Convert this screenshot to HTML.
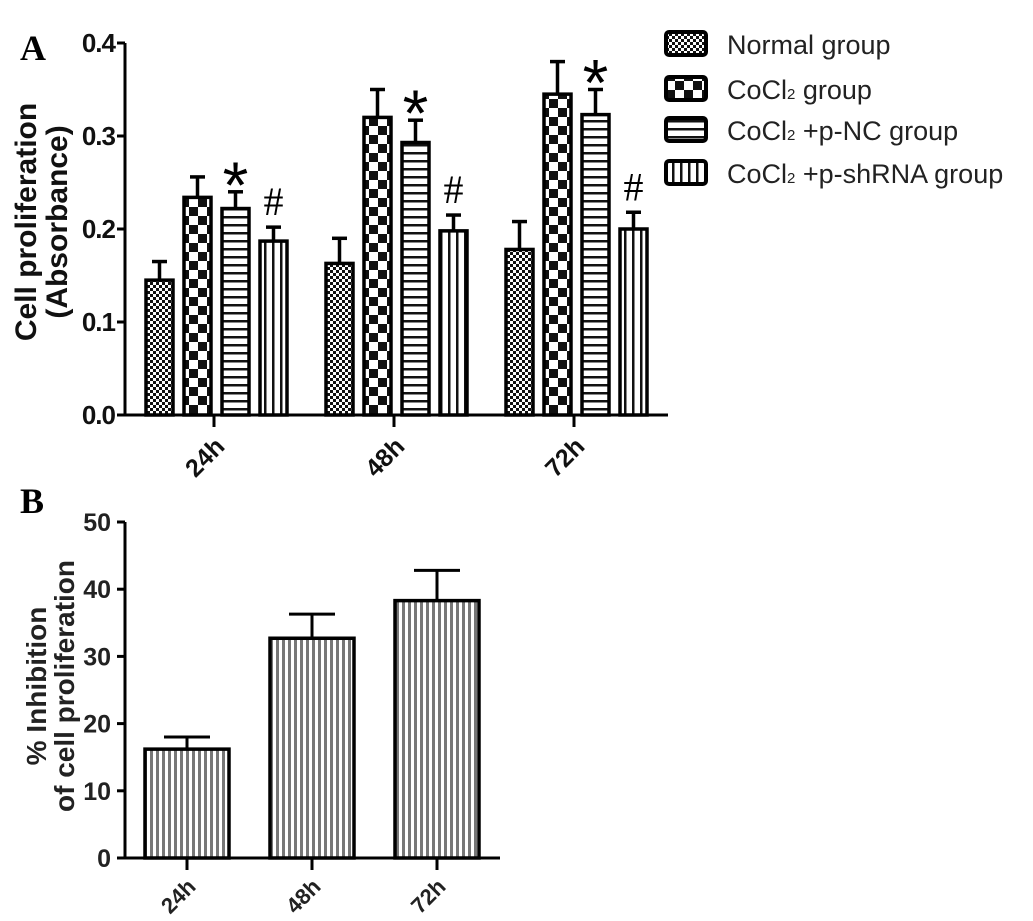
<!DOCTYPE html>
<html><head><meta charset="utf-8"><style>html,body{margin:0;padding:0;background:#fff}svg{display:block}text{font-family:"Liberation Sans",Arial,sans-serif}</style></head>
<body>
<svg id="s" width="1033" height="921" viewBox="0 0 1033 921" xmlns="http://www.w3.org/2000/svg">
<defs>
<pattern id="p0" width="6" height="6" patternUnits="userSpaceOnUse"><rect width="6" height="6" fill="#fff"/><rect width="3" height="3" fill="#111"/><rect x="3" y="3" width="3" height="3" fill="#111"/></pattern>
<pattern id="p1" width="18" height="18" patternUnits="userSpaceOnUse" x="0"><rect width="18" height="18" fill="#fff"/><rect width="9" height="9" fill="#111"/><rect x="9" y="9" width="9" height="9" fill="#111"/></pattern>
<pattern id="p2" width="8" height="8" patternUnits="userSpaceOnUse"><rect width="8" height="8" fill="#fff"/><rect y="0" width="8" height="2.5" fill="#111"/></pattern>
<pattern id="p3" width="8" height="8" patternUnits="userSpaceOnUse"><rect width="8" height="8" fill="#fff"/><rect x="0" width="2.5" height="8" fill="#111"/></pattern>
<pattern id="pB" width="6" height="6" patternUnits="userSpaceOnUse"><rect width="6" height="6" fill="#fff"/><rect width="3" height="6" fill="#777"/></pattern>
</defs>
<text x="20" y="60" font-weight="bold" font-size="36" style="font-family:'Liberation Serif',serif">A</text>
<text x="20" y="513" font-weight="bold" font-size="36" style="font-family:'Liberation Serif',serif">B</text>
<g id="ga"></g><g id="gb"></g>
</svg>
<script>
const catsA=["24h","48h","72h"];
const seriesNames=["Normal group","CoCl2 group","CoCl2+p-NC group","CoCl2+p-shRNA group"];
const normalVals=[0.145,0.163,0.178];
const normalErr=[0.020,0.027,0.030];
const cocl2Vals=[0.234,0.320,0.345];
const cocl2Err=[0.022,0.030,0.035];
const ncVals=[0.222,0.293,0.323];
const ncErr=[0.018,0.024,0.027];
const shVals=[0.187,0.198,0.200];
const shErr=[0.015,0.017,0.018];
const ticksA=["0.0","0.1","0.2","0.3","0.4"];
const catsB=["24h","48h","72h"];
const inhibVals=[16.2,32.7,38.3];
const inhibErr=[1.8,3.6,4.5];
const ticksB=["0","10","20","30","40","50"];

const NS="http://www.w3.org/2000/svg";
function mk(p,t,a){const e=document.createElementNS(NS,t);for(const k in a)e.setAttribute(k,a[k]);p.appendChild(e);return e;}
// Panel A
const ga=document.getElementById('ga');
const yA=v=>415-v*(372/0.4);
const xA=i=>214+i*180;
const ax=mk(ga,'path',{d:'M125 43 V415 H668',fill:'none',stroke:'#000','stroke-width':3});

ticksA.forEach((t,i)=>{const v=parseFloat(t);mk(ga,'line',{x1:117,x2:125,y1:yA(v),y2:yA(v),stroke:'#000','stroke-width':3});
const tx=mk(ga,'text',{x:115,y:yA(v)+9,'text-anchor':'end','font-size':26,'font-weight':'bold',fill:'#111','letter-spacing':'-1'});tx.textContent=t;
});
const ylA=mk(ga,'text',{transform:'translate(36,222) rotate(-90)','text-anchor':'middle','font-size':30,'font-weight':'bold',fill:'#111'});ylA.textContent='Cell proliferation';

const ylA2=mk(ga,'text',{transform:'translate(67,222) rotate(-90)','text-anchor':'middle','font-size':30,'font-weight':'bold',fill:'#111'});ylA2.textContent='(Absorbance)';

const SV=[normalVals,cocl2Vals,ncVals,shVals],SE=[normalErr,cocl2Err,ncErr,shErr];
catsA.forEach((c,i)=>{
 mk(ga,'line',{x1:xA(i),x2:xA(i),y1:415,y2:427,stroke:'#000','stroke-width':3});
 const tx=mk(ga,'text',{transform:`translate(${xA(i)+12},448) rotate(-45)`,'text-anchor':'end','font-size':25,'font-weight':'bold',fill:'#111'});tx.textContent=c;
 
 for(let s=0;s<4;s++){
  const x=xA(i)-68+s*38,v=SV[s][i],e=SE[s][i];
  mk(ga,'line',{x1:x+13.5,x2:x+13.5,y1:yA(v),y2:yA(v+e),stroke:'#000','stroke-width':3.5});
  mk(ga,'line',{x1:x+6,x2:x+21,y1:yA(v+e),y2:yA(v+e),stroke:'#000','stroke-width':3.5});
  const b=mk(ga,'rect',{x:x,y:yA(v),width:27,height:415-yA(v),fill:`url(#p${s})`,stroke:'#000','stroke-width':3.5});
  
  const m=s==2?'*':(s==3?'#':'');
  if(m){const t=mk(ga,'text',{x:x+13.5,y:yA(v+e)-(m=='*'?-16:12),'text-anchor':'middle','font-size':m=='*'?66:40,fill:'#000',style:m=='#'?"font-family:'Liberation Serif',serif":''});t.textContent=m;
  }
 }
});
seriesNames.forEach((n,s)=>{
 const y=[32,77,118,161][s];
 const sw=mk(ga,'rect',{x:666,y:y,width:40,height:23,rx:3,fill:`url(#p${s})`,stroke:'#000','stroke-width':4});
 
 const t=mk(ga,'text',{x:727,y:y+22,'font-size':27,fill:'#222'});
 
 if(n.startsWith('CoCl2')){t.innerHTML='CoCl<tspan font-size="15">2</tspan>'+(n.slice(5)==' group'?'  group':' '+n.slice(5));}else t.textContent=n;
});
// Panel B
const gb=document.getElementById('gb');
const yB=v=>858-v*(336/50);
const xB=i=>187+i*125;
const axb=mk(gb,'path',{d:'M125 522 V858 H500',fill:'none',stroke:'#000','stroke-width':3});

ticksB.forEach(t=>{const v=+t;mk(gb,'line',{x1:117,x2:125,y1:yB(v),y2:yB(v),stroke:'#000','stroke-width':3});
const tx=mk(gb,'text',{x:111,y:yB(v)+9,'text-anchor':'end','font-size':25,'font-weight':'bold',fill:'#222'});tx.textContent=t;
});
const yl1=mk(gb,'text',{transform:'translate(46,686) rotate(-90)','text-anchor':'middle','font-size':28,'font-weight':'bold',fill:'#222'});yl1.textContent='% Inhibition';

const yl2=mk(gb,'text',{transform:'translate(74,686) rotate(-90)','text-anchor':'middle','font-size':28,'font-weight':'bold',fill:'#222'});yl2.textContent='of cell proliferation';

catsB.forEach((c,i)=>{
 const x=xB(i),v=inhibVals[i],e=inhibErr[i];
 mk(gb,'line',{x1:x,x2:x,y1:858,y2:870,stroke:'#000','stroke-width':3});
 mk(gb,'line',{x1:x,x2:x,y1:yB(v),y2:yB(v+e),stroke:'#000','stroke-width':3});
 mk(gb,'line',{x1:x-23,x2:x+23,y1:yB(v+e),y2:yB(v+e),stroke:'#000','stroke-width':3});
 const b=mk(gb,'rect',{x:x-42,y:yB(v),width:84,height:858-yB(v),fill:'url(#pB)',stroke:'#000','stroke-width':3.5});
 
 const tx=mk(gb,'text',{transform:`translate(${x+10},888) rotate(-45)`,'text-anchor':'end','font-size':22,'font-weight':'bold',fill:'#222'});tx.textContent=c;
 
});
</script>
</body></html>
